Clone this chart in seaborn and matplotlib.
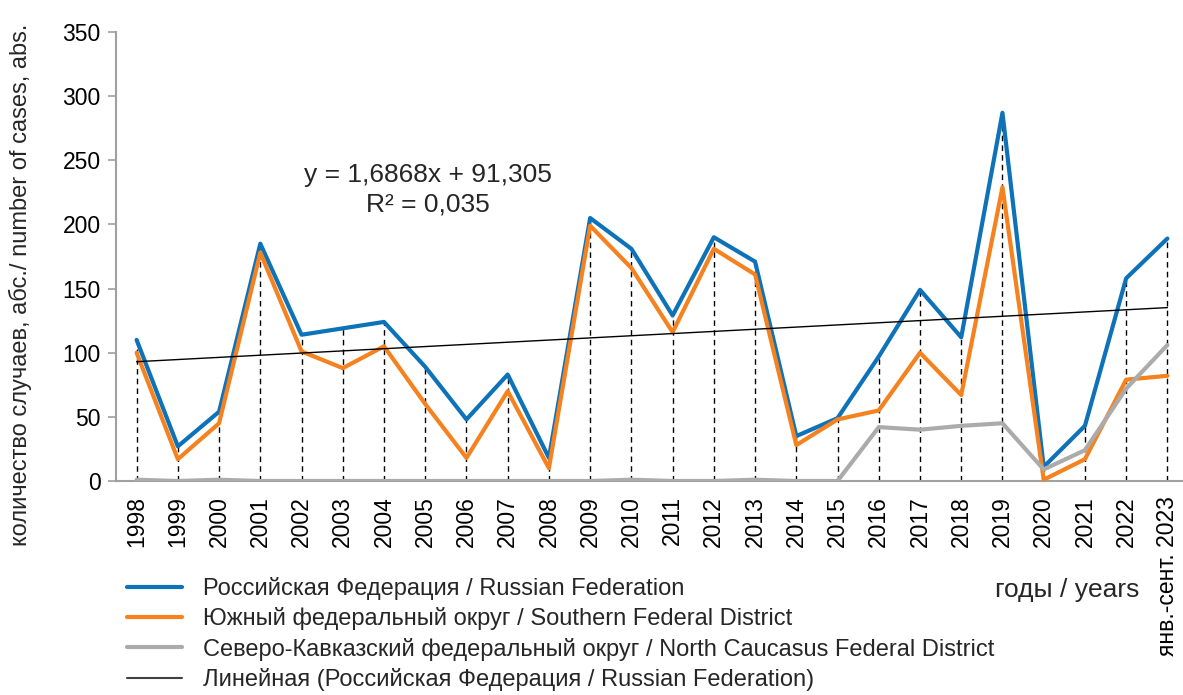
import numpy as np
import pandas as pd
import matplotlib
matplotlib.use('Agg')
import matplotlib.pyplot as plt
import seaborn as sns
from matplotlib.lines import Line2D

# ---------------- data ----------------
years = [str(y) for y in range(1998, 2023)] + ['янв.-сент. 2023']
russia = [110, 27, 54, 185, 114, 119, 124, 89, 48, 83, 18, 205, 181, 129, 190, 171,
          35, 49, 97, 149, 112, 287, 11, 43, 158, 189]
south = [100, 17, 45, 178, 101, 88, 105, 60, 18, 70, 10, 199, 166, 116, 181, 161,
         28, 48, 55, 100, 67, 229, 1, 17, 79, 82]
ncfd = [1, 0, 1, 0, 0, 0, 0, 0, 0, 0, 0, 0, 1, 0, 0, 1,
        0, 0, 42, 40, 43, 45, 9, 24, 72, 106]
series_names = ['Российская Федерация / Russian Federation',
                'Южный федеральный округ / Southern Federal District',
                'Северо-Кавказский федеральный округ / North Caucasus Federal District']
trend_name = 'Линейная (Российская Федерация / Russian Federation)'
trend_slope = 1.6868
trend_intercept = 91.305
trend_r2 = '0,035'
y_ticks = [0, 50, 100, 150, 200, 250, 300, 350]
colors = ['#0E72B9', '#F5821F', '#ABABAB']

# ---------------- style ----------------
sns.set_theme(style='ticks')
plt.rcParams['font.family'] = ['Liberation Sans', 'DejaVu Sans']

W, H = 1183, 695
fig = plt.figure(figsize=(W / 100, H / 100), dpi=100)
ax = fig.add_axes([116 / W, 1 - 481 / H, (1188 - 116) / W, (481 - 32) / H])

pos = np.arange(len(years))
df = pd.DataFrame({
    'pos': np.concatenate([pos, pos, pos]),
    'value': russia + south + ncfd,
    'series': [series_names[0]] * len(pos) + [series_names[1]] * len(pos) + [series_names[2]] * len(pos),
})

# drop lines
top = np.max(np.vstack([russia, south, ncfd]), axis=0)
ax.vlines(pos, 0, top, colors='black', linestyles=(0, (4, 3)), linewidth=1.0, zorder=1)

sns.lineplot(data=df, x='pos', y='value', hue='series', hue_order=series_names,
             palette=colors, linewidth=3.0, legend=False, ax=ax, zorder=3)

# linear trend
trend = trend_slope * (pos + 1) + trend_intercept
sns.lineplot(x=pos, y=trend, color='black', linewidth=1.0, ax=ax, zorder=4)

ax.set_xlim(-0.5, len(years) - 0.5)
ax.set_ylim(0, 350)
ax.set_yticks(y_ticks)
ax.set_xticks(pos)
ax.set_xticklabels(years, rotation=90, fontsize=16.5, va='top')
ax.tick_params(axis='x', length=0, pad=11, colors='black')
ax.tick_params(axis='y', length=6, width=1.2, color='#A0A0A0', pad=5, labelsize=16.5, labelcolor='black')
for s in ['top', 'right']:
    ax.spines[s].set_visible(False)
for s in ['left', 'bottom']:
    ax.spines[s].set_color('#A0A0A0')
    ax.spines[s].set_linewidth(1.5)
ax.set_xlabel('')
ax.set_ylabel('')

# texts
fig.text(20 / W, 1 - 285 / H, 'количество случаев, абс./ number of cases, abs.',
         rotation=90, ha='center', va='center', fontsize=17)
fig.text(428 / W, 1 - 175 / H, f'y = {str(trend_slope).replace(".", ",")}x + {str(trend_intercept).replace(".", ",")}',
         ha='center', va='center', fontsize=19)
fig.text(428 / W, 1 - 205 / H, f'R² = {trend_r2}', ha='center', va='center', fontsize=19)
fig.text(1067 / W, 1 - 590 / H, 'годы / years', ha='center', va='center', fontsize=19)

handles = [Line2D([], [], color=c, lw=3.0) for c in colors] + [Line2D([], [], color='#404040', lw=1.5)]
labels = series_names + [trend_name]
fig.legend(handles, labels, loc='upper left', bbox_to_anchor=(127 / W, 1 - 577 / H),
           frameon=False, fontsize=17, handlelength=2.33, handletextpad=0.89,
           labelspacing=0.31, borderaxespad=0, borderpad=0)

fig.savefig('out.png', dpi=100)
